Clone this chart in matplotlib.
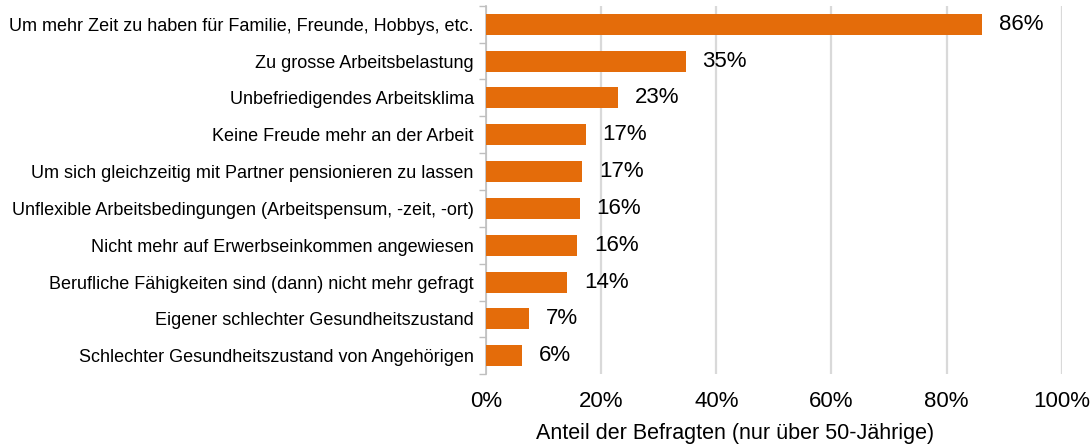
import matplotlib.pyplot as plt
import numpy as np

CATEGORIES = [
    "Um mehr Zeit zu haben für Familie, Freunde, Hobbys, etc.",
    "Zu grosse Arbeitsbelastung",
    "Unbefriedigendes Arbeitsklima",
    "Keine Freude mehr an der Arbeit",
    "Um sich gleichzeitig mit Partner pensionieren zu lassen",
    "Unflexible Arbeitsbedingungen (Arbeitspensum, -zeit, -ort)",
    "Nicht mehr auf Erwerbseinkommen angewiesen",
    "Berufliche Fähigkeiten sind (dann) nicht mehr gefragt",
    "Eigener schlechter Gesundheitszustand",
    "Schlechter Gesundheitszustand von Angehörigen",
]
VALUES = [0.862, 0.347, 0.229, 0.173, 0.167, 0.163, 0.158, 0.141, 0.074, 0.062]
LABELS = ["86%", "35%", "23%", "17%", "17%", "16%", "16%", "14%", "7%", "6%"]
XTICKS = [0.0, 0.2, 0.4, 0.6, 0.8, 1.0]
XTICKLABELS = ["0%", "20%", "40%", "60%", "80%", "100%"]

ORANGE = "#E46C0A"
GRID = "#D9D9D9"
AXIS = "#BFBFBF"

plt.rcParams["font.family"] = ["Liberation Sans", "DejaVu Sans"]

fig = plt.figure(figsize=(10.9, 4.46), dpi=100, facecolor="white")
ax = fig.add_axes([0.446, 0.161, 0.528, 0.826])

pos = np.arange(len(CATEGORIES))
bars = ax.barh(pos, VALUES, height=0.57, color=ORANGE, zorder=3)
for bar, lab in zip(bars, LABELS):
    ax.text(bar.get_width() + 0.029, bar.get_y() + bar.get_height() / 2, lab,
            ha="left", va="center", fontsize=16, color="black", zorder=4)

ax.set_ylim(len(CATEGORIES) - 0.5, -0.5)
ax.set_xlim(0, 1.0)
ax.set_yticks(pos, CATEGORIES, fontsize=13)
ax.set_yticks(np.arange(-0.5, len(CATEGORIES) + 0.5, 1.0), minor=True)
ax.tick_params(axis="y", which="major", length=0, pad=9)
ax.tick_params(axis="y", which="minor", length=5, color=AXIS, width=1)
ax.set_xticks(XTICKS, XTICKLABELS, fontsize=16)
ax.tick_params(axis="x", length=0, pad=12)
ax.set_xlabel("Anteil der Befragten (nur über 50-Jährige)", fontsize=15.5)
ax.xaxis.set_label_coords(0.432, -0.133)

ax.grid(axis="x", color=GRID, linewidth=1.6, zorder=0)
ax.set_axisbelow(True)
for side in ["top", "right", "bottom"]:
    ax.spines[side].set_visible(False)
ax.spines["left"].set_color(AXIS)
ax.spines["left"].set_linewidth(1.2)

fig.savefig("out.png", dpi=100)
